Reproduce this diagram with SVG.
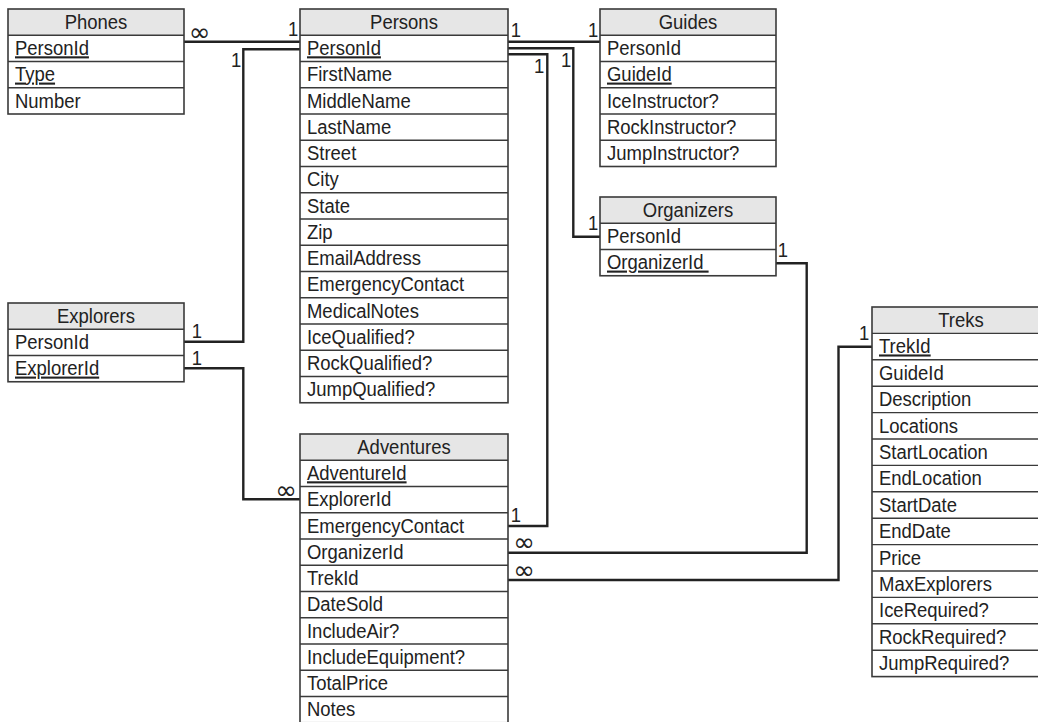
<svg xmlns="http://www.w3.org/2000/svg" width="1038" height="722" viewBox="0 0 1038 722">
<style>
text{font-family:"Liberation Sans",Arial,sans-serif;font-size:21px;fill:#222;transform-box:fill-box;transform-origin:left center;transform:scaleX(0.88)}
.hdr{text-anchor:middle;transform-origin:center}
.key{text-decoration:underline}
.hfill{fill:#e6e6e6;stroke:none}
.box{fill:none;stroke:#3a3a3a;stroke-width:1.6}
.sep{stroke:#3a3a3a;stroke-width:1.4}
.conn{fill:none;stroke:#222;stroke-width:2.4}
.lbl{transform-origin:center}
.inf{font-family:"DejaVu Sans",sans-serif;font-size:26px;transform:none;text-anchor:middle}
.bg{fill:#fff}
</style>
<rect class="bg" x="0" y="0" width="1038" height="722"/>
<g id="connectors">
<path class="conn" d="M184,41.7 H300"/>
<path class="conn" d="M184,341.7 H243.3 V49.3 H300"/>
<path class="conn" d="M508,41.7 H600"/>
<path class="conn" d="M508,48.3 H573.3 V236.7 H600"/>
<path class="conn" d="M508,54.3 H547.3 V526 H508"/>
<path class="conn" d="M184,368.3 H243.3 V499.3 H300"/>
<path class="conn" d="M776,263.3 H806.7 V552.7 H508"/>
<path class="conn" d="M872,346.7 H838.5 V580 H508"/>
<text class="inf" x="199.5" y="40.5">∞</text>
<text class="lbl" x="299" y="36" text-anchor="end">1</text>
<text class="lbl" x="242" y="67" text-anchor="end">1</text>
<text class="lbl" x="510" y="37">1</text>
<text class="lbl" x="599" y="37" text-anchor="end">1</text>
<text class="lbl" x="545" y="73" text-anchor="end">1</text>
<text class="lbl" x="572" y="67" text-anchor="end">1</text>
<text class="lbl" x="599" y="230" text-anchor="end">1</text>
<text class="lbl" x="777" y="257">1</text>
<text class="lbl" x="191" y="338">1</text>
<text class="lbl" x="191" y="365">1</text>
<text class="inf" x="286" y="498.5">∞</text>
<text class="lbl" x="510" y="522">1</text>
<text class="inf" x="524" y="551">∞</text>
<text class="inf" x="524" y="579">∞</text>
<text class="lbl" x="870" y="340" text-anchor="end">1</text>
</g>
<g id="phones">
<rect class="hfill" x="8" y="9" width="176" height="26.25"/>
<line class="sep" x1="8" y1="35.25" x2="184" y2="35.25"/>
<line class="sep" x1="8" y1="61.5" x2="184" y2="61.5"/>
<line class="sep" x1="8" y1="87.75" x2="184" y2="87.75"/>
<rect class="box" x="8" y="9" width="176" height="105"/>
<text class="hdr" x="96" y="29.5">Phones</text>
<text class="key" x="15" y="55.25">PersonId</text>
<text class="key" x="15" y="81.5">Type</text>
<text x="15" y="107.75">Number</text>
</g>
<g id="persons">
<rect class="hfill" x="300" y="9" width="208" height="26.25"/>
<g class="sep">
<line x1="300" y1="35.25" x2="508" y2="35.25"/>
<line x1="300" y1="61.5" x2="508" y2="61.5"/>
<line x1="300" y1="87.75" x2="508" y2="87.75"/>
<line x1="300" y1="114" x2="508" y2="114"/>
<line x1="300" y1="140.25" x2="508" y2="140.25"/>
<line x1="300" y1="166.5" x2="508" y2="166.5"/>
<line x1="300" y1="192.75" x2="508" y2="192.75"/>
<line x1="300" y1="219" x2="508" y2="219"/>
<line x1="300" y1="245.25" x2="508" y2="245.25"/>
<line x1="300" y1="271.5" x2="508" y2="271.5"/>
<line x1="300" y1="297.75" x2="508" y2="297.75"/>
<line x1="300" y1="324" x2="508" y2="324"/>
<line x1="300" y1="350.25" x2="508" y2="350.25"/>
<line x1="300" y1="376.5" x2="508" y2="376.5"/>
</g>
<rect class="box" x="300" y="9" width="208" height="393.75"/>
<text class="hdr" x="404" y="29.5">Persons</text>
<text class="key" x="307" y="55.25">PersonId</text>
<text x="307" y="81.5">FirstName</text>
<text x="307" y="107.75">MiddleName</text>
<text x="307" y="134">LastName</text>
<text x="307" y="160.25">Street</text>
<text x="307" y="186.5">City</text>
<text x="307" y="212.75">State</text>
<text x="307" y="239">Zip</text>
<text x="307" y="265.25">EmailAddress</text>
<text x="307" y="291.5">EmergencyContact</text>
<text x="307" y="317.75">MedicalNotes</text>
<text x="307" y="344">IceQualified?</text>
<text x="307" y="370.25">RockQualified?</text>
<text x="307" y="396.5">JumpQualified?</text>
</g>
<g id="guides">
<rect class="hfill" x="600" y="9" width="176" height="26.25"/>
<g class="sep">
<line x1="600" y1="35.25" x2="776" y2="35.25"/>
<line x1="600" y1="61.5" x2="776" y2="61.5"/>
<line x1="600" y1="87.75" x2="776" y2="87.75"/>
<line x1="600" y1="114" x2="776" y2="114"/>
<line x1="600" y1="140.25" x2="776" y2="140.25"/>
</g>
<rect class="box" x="600" y="9" width="176" height="157.5"/>
<text class="hdr" x="688" y="29.5">Guides</text>
<text x="607" y="55.25">PersonId</text>
<text class="key" x="607" y="81.5">GuideId</text>
<text x="607" y="107.75">IceInstructor?</text>
<text x="607" y="134">RockInstructor?</text>
<text x="607" y="160.25">JumpInstructor?</text>
</g>
<g id="organizers">
<rect class="hfill" x="600" y="197" width="176" height="26.25"/>
<line class="sep" x1="600" y1="223.25" x2="776" y2="223.25"/>
<line class="sep" x1="600" y1="249.5" x2="776" y2="249.5"/>
<rect class="box" x="600" y="197" width="176" height="78.75"/>
<text class="hdr" x="688" y="217.5">Organizers</text>
<text x="607" y="243.25">PersonId</text>
<text class="key" x="607" y="269.5" xml:space="preserve">OrganizerId </text>
</g>
<g id="explorers">
<rect class="hfill" x="8" y="303" width="176" height="26.25"/>
<line class="sep" x1="8" y1="329.25" x2="184" y2="329.25"/>
<line class="sep" x1="8" y1="355.5" x2="184" y2="355.5"/>
<rect class="box" x="8" y="303" width="176" height="78.75"/>
<text class="hdr" x="96" y="323.5">Explorers</text>
<text x="15" y="349.25">PersonId</text>
<text class="key" x="15" y="375.5">ExplorerId</text>
</g>
<g id="adventures">
<rect class="hfill" x="300" y="434" width="208" height="26.25"/>
<g class="sep">
<line x1="300" y1="460.25" x2="508" y2="460.25"/>
<line x1="300" y1="486.5" x2="508" y2="486.5"/>
<line x1="300" y1="512.75" x2="508" y2="512.75"/>
<line x1="300" y1="539" x2="508" y2="539"/>
<line x1="300" y1="565.25" x2="508" y2="565.25"/>
<line x1="300" y1="591.5" x2="508" y2="591.5"/>
<line x1="300" y1="617.75" x2="508" y2="617.75"/>
<line x1="300" y1="644" x2="508" y2="644"/>
<line x1="300" y1="670.25" x2="508" y2="670.25"/>
<line x1="300" y1="696.5" x2="508" y2="696.5"/>
</g>
<rect class="box" x="300" y="434" width="208" height="288.75"/>
<text class="hdr" x="404" y="454.5">Adventures</text>
<text class="key" x="307" y="480.25">AdventureId</text>
<text x="307" y="506.5">ExplorerId</text>
<text x="307" y="532.75">EmergencyContact</text>
<text x="307" y="559">OrganizerId</text>
<text x="307" y="585.25">TrekId</text>
<text x="307" y="611.5">DateSold</text>
<text x="307" y="637.75">IncludeAir?</text>
<text x="307" y="664">IncludeEquipment?</text>
<text x="307" y="690.25">TotalPrice</text>
<text x="307" y="716.5">Notes</text>
</g>
<g id="treks">
<rect class="hfill" x="872" y="307" width="178" height="26.4"/>
<g class="sep">
<line x1="872" y1="333.4" x2="1050" y2="333.4"/>
<line x1="872" y1="359.8" x2="1050" y2="359.8"/>
<line x1="872" y1="386.2" x2="1050" y2="386.2"/>
<line x1="872" y1="412.6" x2="1050" y2="412.6"/>
<line x1="872" y1="439" x2="1050" y2="439"/>
<line x1="872" y1="465.4" x2="1050" y2="465.4"/>
<line x1="872" y1="491.8" x2="1050" y2="491.8"/>
<line x1="872" y1="518.2" x2="1050" y2="518.2"/>
<line x1="872" y1="544.6" x2="1050" y2="544.6"/>
<line x1="872" y1="571" x2="1050" y2="571"/>
<line x1="872" y1="597.4" x2="1050" y2="597.4"/>
<line x1="872" y1="623.8" x2="1050" y2="623.8"/>
<line x1="872" y1="650.2" x2="1050" y2="650.2"/>
</g>
<rect class="box" x="872" y="307" width="178" height="369.6"/>
<text class="hdr" x="961" y="327.3">Treks</text>
<text class="key" x="879" y="353.4">TrekId</text>
<text x="879" y="379.8">GuideId</text>
<text x="879" y="406.2">Description</text>
<text x="879" y="432.6">Locations</text>
<text x="879" y="459">StartLocation</text>
<text x="879" y="485.4">EndLocation</text>
<text x="879" y="511.8">StartDate</text>
<text x="879" y="538.2">EndDate</text>
<text x="879" y="564.6">Price</text>
<text x="879" y="591">MaxExplorers</text>
<text x="879" y="617.4">IceRequired?</text>
<text x="879" y="643.8">RockRequired?</text>
<text x="879" y="670.2">JumpRequired?</text>
</g>
</svg>
